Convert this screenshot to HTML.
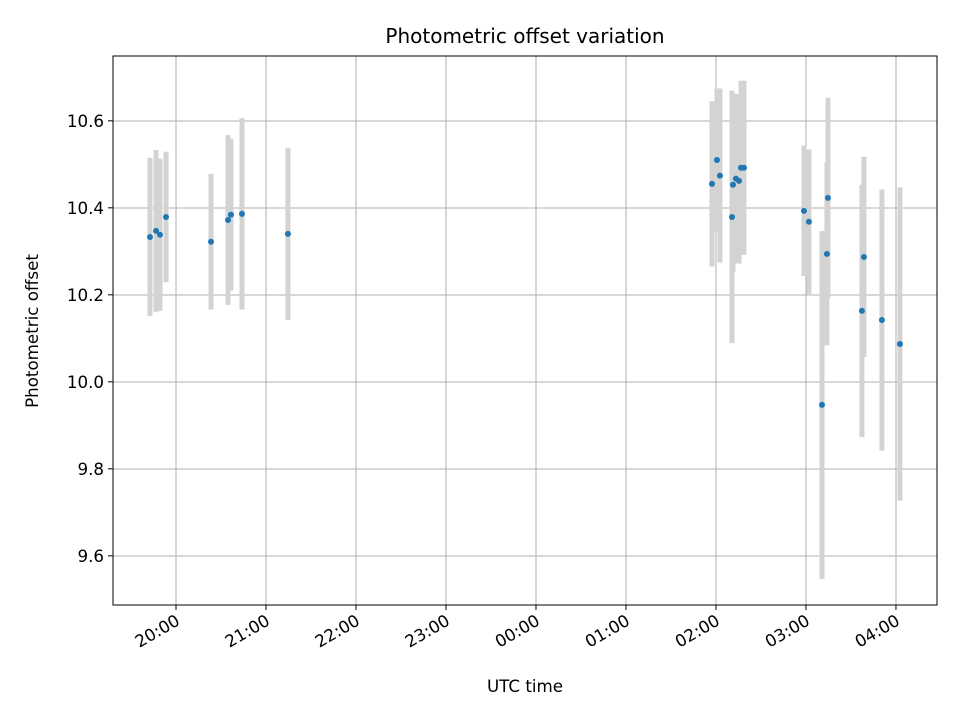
<!DOCTYPE html>
<html><head><meta charset="utf-8"><style>
body{margin:0;background:#fff;}
svg{display:block;font-family:"DejaVu Sans","Liberation Sans",sans-serif;}
</style></head><body>
<svg id="chart" width="960" height="720" xmlns="http://www.w3.org/2000/svg">
<rect width="960" height="720" fill="#fff"/>
<text x="525" y="43" font-size="20" text-anchor="middle" fill="#000">Photometric offset variation</text>
<g id="grid" shape-rendering="crispEdges"></g>
<g id="bars"></g>
<g id="points"></g>
<rect x="113" y="56" width="824" height="549" fill="none" stroke="#000" stroke-width="1" shape-rendering="crispEdges"/>
<g id="axes"></g>
<text x="525" y="692" font-size="16.7" text-anchor="middle">UTC time</text>
<text transform="translate(38,331) rotate(-90)" font-size="16.7" text-anchor="middle">Photometric offset</text>
</svg>
<script>
// times in hours since previous midnight (values >24 are after midnight)
const times = [19.711,19.778,19.822,19.889,20.389,20.578,20.611,20.733,21.244,
  25.956,26.011,26.044,26.178,26.189,26.222,26.256,26.278,26.311,
  26.978,27.033,27.178,27.233,27.244,27.622,27.644,27.844,28.044];
const offsets = [10.333,10.347,10.338,10.379,10.322,10.372,10.384,10.386,10.340,
  10.455,10.510,10.474,10.379,10.453,10.467,10.462,10.492,10.492,
  10.393,10.368,9.947,10.294,10.423,10.163,10.287,10.142,10.087];
const errors = [0.182,0.186,0.175,0.150,0.156,0.195,0.174,0.220,0.198,
  0.190,0.165,0.200,0.290,0.200,0.195,0.190,0.200,0.200,
  0.150,0.166,0.400,0.210,0.230,0.290,0.230,0.300,0.360];
const xTicks = [20,21,22,23,24,25,26,27,28];
const xTickLabels = ["20:00","21:00","22:00","23:00","00:00","01:00","02:00","03:00","04:00"];
const yTicks = [9.6,9.8,10.0,10.2,10.4,10.6];
const yTickLabels = ["9.6","9.8","10.0","10.2","10.4","10.6"];

const L=113,R=937,T=56,B=605;
const xMin=19.3,xMax=28.456,yMin=9.487,yMax=10.749;
const xs=v=>L+(v-xMin)/(xMax-xMin)*(R-L);
const ys=v=>B-(v-yMin)/(yMax-yMin)*(B-T);
const NS="http://www.w3.org/2000/svg";
function mk(tag,attrs,parent){const e=document.createElementNS(NS,tag);for(const k in attrs)e.setAttribute(k,attrs[k]);parent.appendChild(e);return e;}
const grid=document.getElementById('grid'),axes=document.getElementById('axes');
const bars=document.getElementById('bars'),pts=document.getElementById('points');
xTicks.forEach((t,i)=>{
  const x=xs(t);
  const g=mk('line',{x1:x,x2:x,y1:T,y2:B,stroke:'#b0b0b0','stroke-width':1},grid);
  
  
  const tk=mk('line',{x1:x,x2:x,y1:B,y2:B+5,stroke:'#000'},axes);
  
  
  const tx=mk('text',{x:0,y:0,'font-size':16.7,'text-anchor':'end',transform:`translate(${x+5},${B+19}) rotate(-30)`},axes);
  tx.textContent=xTickLabels[i];
  
  
});
yTicks.forEach((t,i)=>{
  const y=ys(t);
  const g=mk('line',{x1:L,x2:R,y1:y,y2:y,stroke:'#b0b0b0','stroke-width':1},grid);
  
  
  const tk=mk('line',{x1:L-5,x2:L,y1:y,y2:y,stroke:'#000'},axes);
  
  
  const tx=mk('text',{x:L-9,y:y+6,'font-size':16.7,'text-anchor':'end'},axes);
  tx.textContent=yTickLabels[i];
  
  
});
times.forEach((t,i)=>{
  const x=xs(t);
  const b=mk('line',{x1:x,x2:x,y1:ys(offsets[i]+errors[i]),y2:ys(offsets[i]-errors[i]),stroke:'#d3d3d3','stroke-width':5},bars);
  
  
});
times.forEach((t,i)=>{
  const c=mk('circle',{cx:xs(t),cy:ys(offsets[i]),r:3,fill:'#1f77b4'},pts);
  
  
});
</script>
</body></html>
